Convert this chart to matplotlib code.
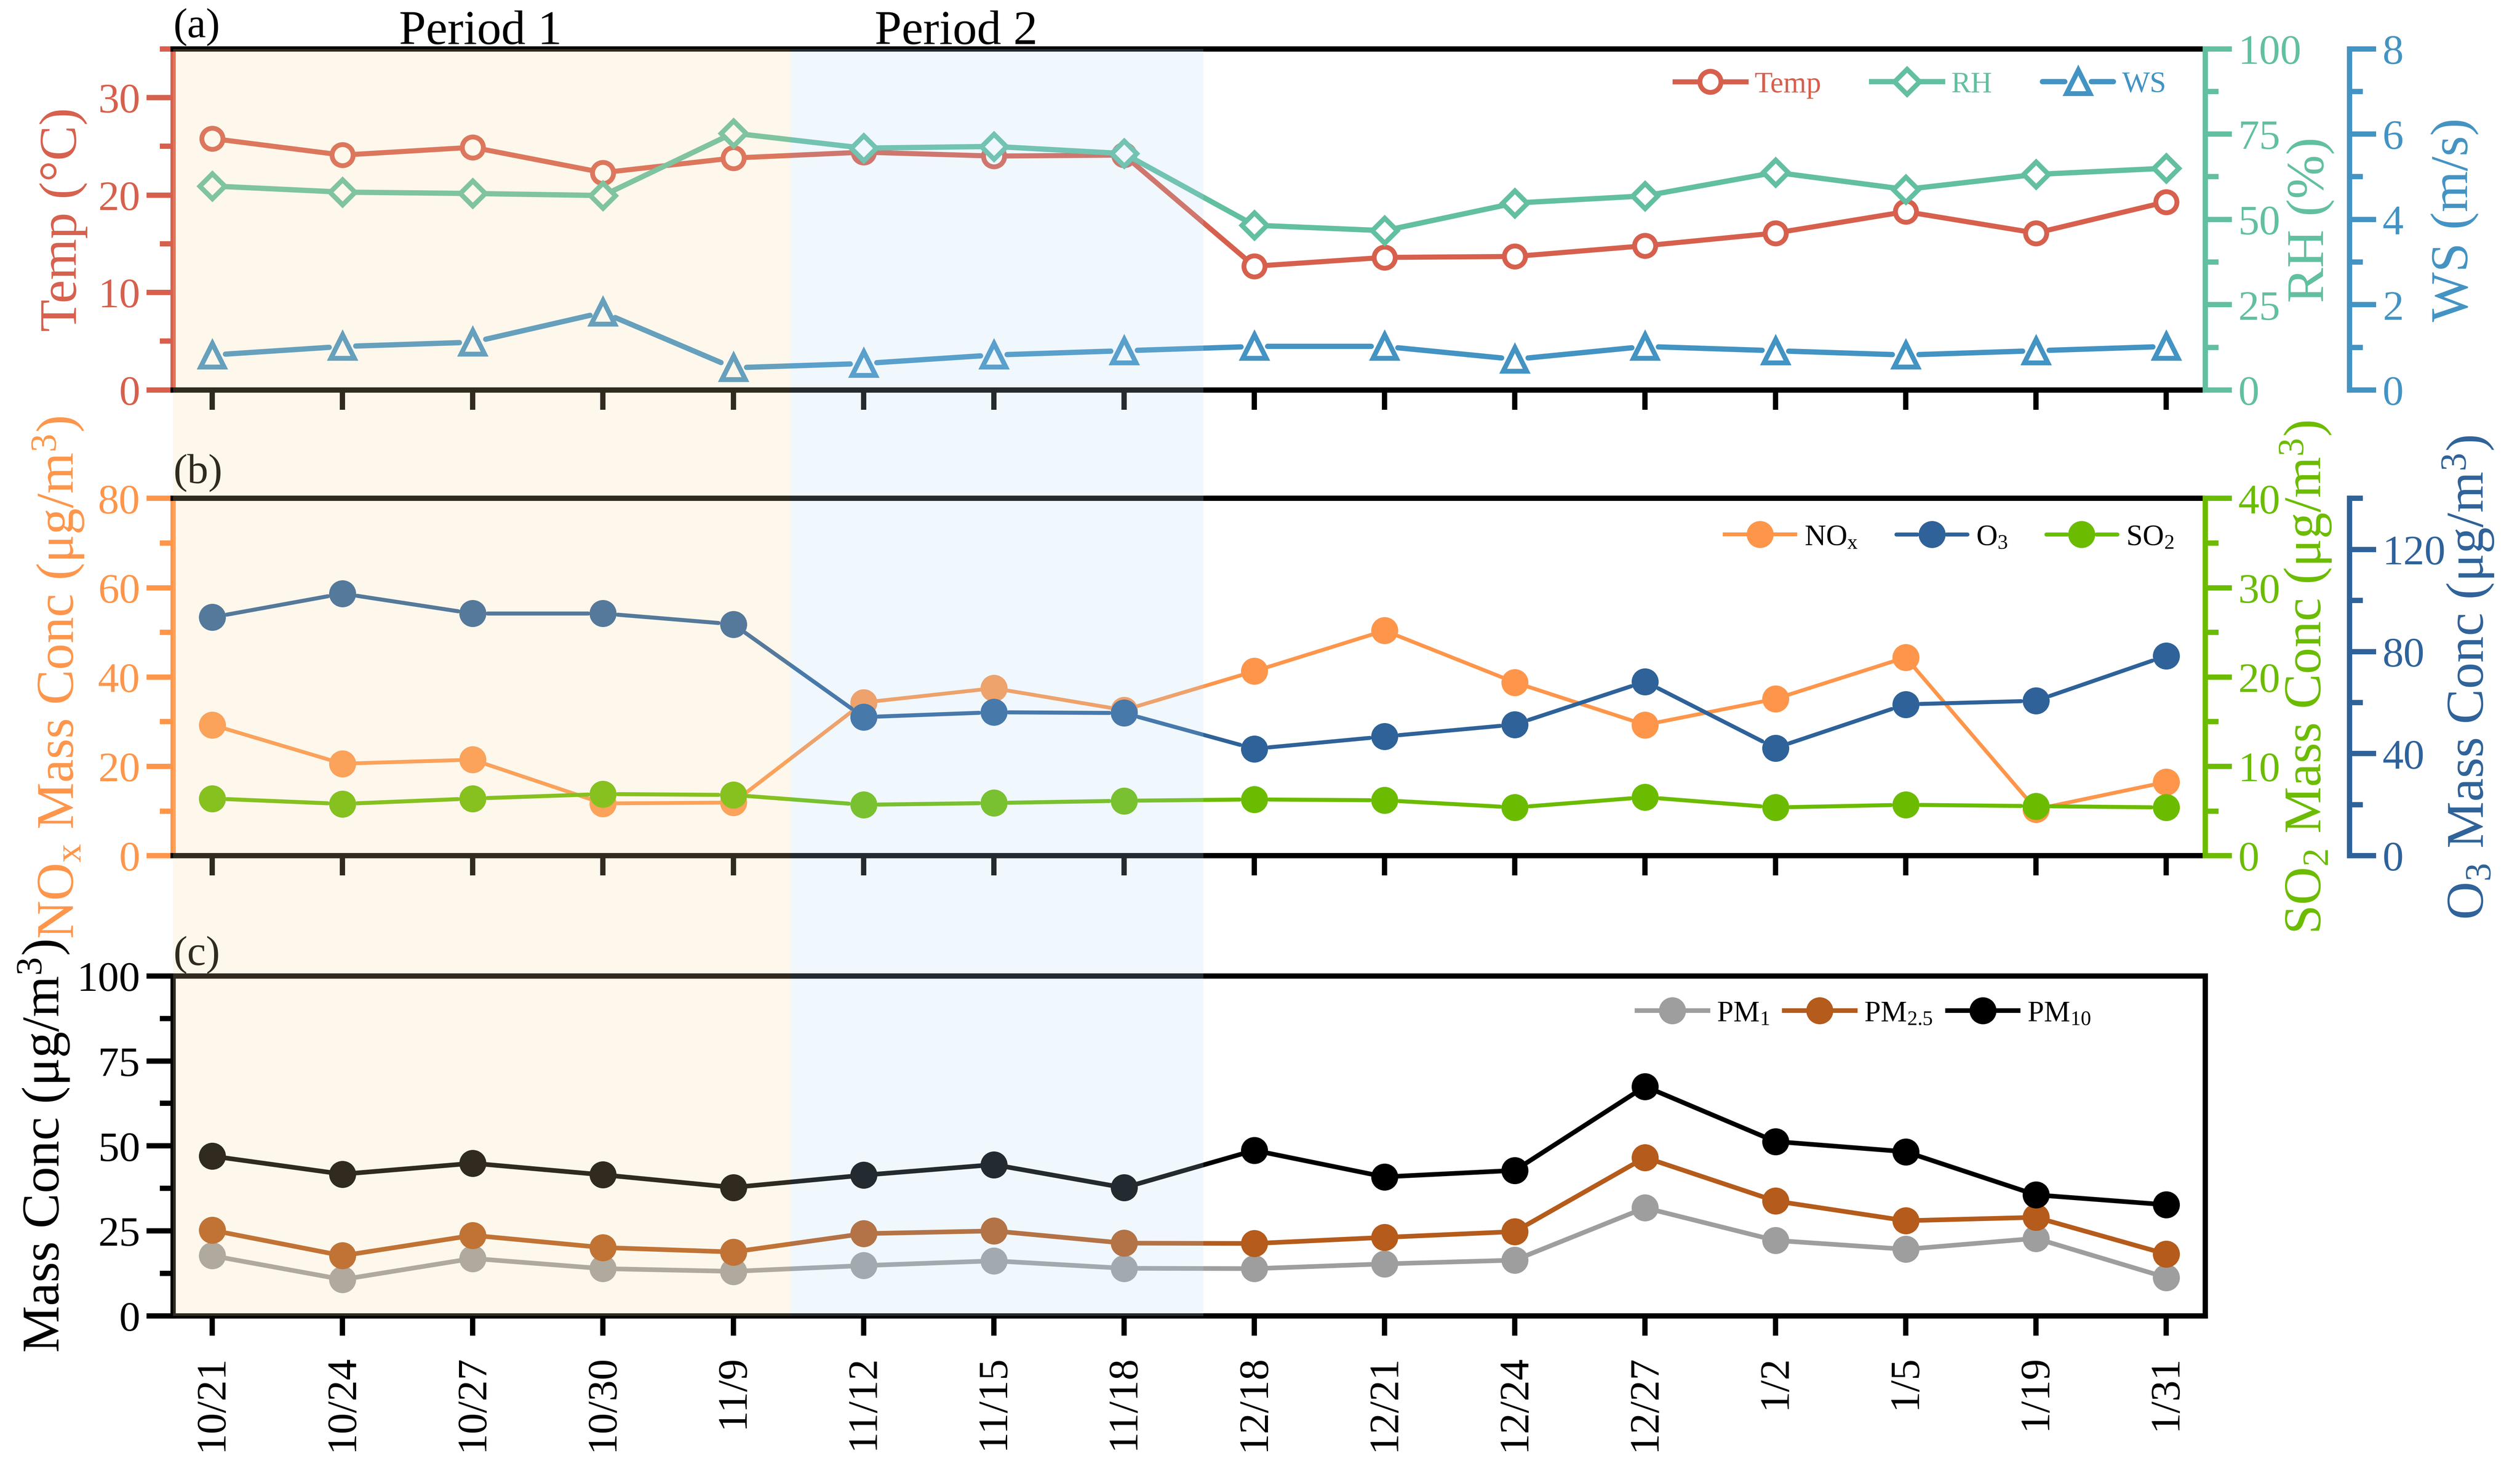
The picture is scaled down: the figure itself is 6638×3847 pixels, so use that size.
import numpy as np
import matplotlib
matplotlib.use("Agg")
import matplotlib.pyplot as plt
from matplotlib.lines import Line2D
from matplotlib.patches import Rectangle
from matplotlib.legend_handler import HandlerBase
from matplotlib.ticker import MultipleLocator
from matplotlib.transforms import blended_transform_factory

plt.rcParams["font.family"] = ["Liberation Serif", "DejaVu Serif"]
plt.rcParams["mathtext.fontset"] = "custom"
plt.rcParams["mathtext.rm"] = "Liberation Serif"
plt.rcParams["mathtext.it"] = "Liberation Serif:italic"
plt.rcParams["mathtext.bf"] = "Liberation Serif:bold"

# ---- data ----
dates = ["10/21", "10/24", "10/27", "10/30", "11/9", "11/12", "11/15", "11/18",
         "12/18", "12/21", "12/24", "12/27", "1/2", "1/5", "1/19", "1/31"]

temp = [25.8, 24.1, 24.9, 22.3, 23.8, 24.4, 24.0, 24.1, 12.7, 13.6, 13.7, 14.8, 16.1, 18.3, 16.1, 19.3]
rh = [59.8, 58.0, 57.6, 57.0, 75.3, 70.9, 71.4, 69.3, 48.3, 46.7, 54.8, 56.9, 63.8, 58.8, 63.2, 65.0]
ws = [0.82, 1.02, 1.12, 1.82, 0.52, 0.62, 0.82, 0.92, 1.02, 1.02, 0.72, 1.02, 0.92, 0.82, 0.92, 1.02]

nox = [29.3, 20.6, 21.5, 11.7, 11.9, 34.3, 37.5, 32.6, 41.3, 50.4, 38.8, 29.3, 35.1, 44.4, 10.4, 16.5]
o3 = [93.4, 102.7, 94.9, 94.9, 90.7, 54.3, 56.2, 55.9, 41.9, 46.7, 51.4, 68.2, 42.2, 59.3, 60.7, 78.3]
so2 = [6.4, 5.8, 6.4, 6.9, 6.8, 5.7, 5.9, 6.15, 6.3, 6.2, 5.4, 6.55, 5.4, 5.7, 5.55, 5.4]

pm1 = [17.7, 10.7, 16.9, 13.9, 13.1, 14.8, 16.2, 14.0, 13.9, 15.3, 16.4, 31.8, 22.2, 19.6, 22.8, 11.3]
pm25 = [25.2, 17.7, 23.7, 20.1, 18.8, 24.2, 25.0, 21.4, 21.3, 23.1, 24.8, 46.6, 33.8, 28.0, 29.0, 18.2]
pm10 = [47.0, 41.7, 44.9, 41.5, 37.8, 41.4, 44.5, 37.7, 48.7, 40.9, 42.8, 67.5, 51.3, 48.3, 35.6, 32.7]

period_labels = ["Period 1", "Period 2"]

# ---- styling ----
TEMP_C, RH_C, WS_C = "#D6604D", "#62BFA1", "#4393C3"
NOX_C, O3_C, SO2_C = "#FD964B", "#2E6299", "#6BBC00"
PM1_C, PM25_C, PM10_C = "#9E9E9E", "#B55B1B", "#000000"

DPI = 400
SPINE_W = 2.5
TICK_FS = 20
LABEL_FS = 25
LEG_FS = 14
XLIM = (-0.3, 15.3)
P1_END, P2_END = 4.44, 7.61
PERIOD_X = [2.06, 5.71]
OFFSET = 1.071

x = np.arange(len(dates))

fig = plt.figure(figsize=(6638 / DPI, 3848 / DPI), dpi=DPI)
ax_a = fig.add_axes([0.0687, 0.7329, 0.8064, 0.2334])
ax_b = fig.add_axes([0.0687, 0.4142, 0.8064, 0.2445])
ax_c = fig.add_axes([0.0687, 0.0993, 0.8064, 0.2326])


def style_main(ax, color, ylim, major, minor, right_visible=False):
    ax.set_xlim(*XLIM)
    ax.set_ylim(*ylim)
    for s in ax.spines.values():
        s.set_linewidth(SPINE_W)
        s.set_color("black")
    ax.spines["left"].set_color(color)
    ax.spines["right"].set_visible(right_visible)
    ax.yaxis.set_major_locator(MultipleLocator(major))
    ax.yaxis.set_minor_locator(MultipleLocator(minor))
    ax.tick_params(axis="y", which="major", length=12.6, width=SPINE_W, color=color,
                   labelcolor=color, labelsize=TICK_FS, pad=3)
    ax.tick_params(axis="y", which="minor", length=6.3, width=SPINE_W, color=color)
    ax.tick_params(axis="y", which="both", right=False)
    ax.set_xticks(x)
    ax.tick_params(axis="x", which="major", length=9.4, width=SPINE_W, color="black",
                   labelsize=TICK_FS, pad=9, top=False)
    ax.tick_params(axis="x", which="minor", bottom=False, top=False)


def add_twin(ax, color, ylim, major, minor, offset=None):
    tw = ax.twinx()
    tw.set_xlim(*XLIM)
    tw.set_ylim(*ylim)
    for name in ("top", "bottom", "left"):
        tw.spines[name].set_visible(False)
    tw.spines["right"].set_color(color)
    tw.spines["right"].set_linewidth(SPINE_W)
    if offset is not None:
        tw.spines["right"].set_position(("axes", offset))
    tw.yaxis.set_major_locator(MultipleLocator(major))
    tw.yaxis.set_minor_locator(MultipleLocator(minor))
    tw.tick_params(axis="y", which="major", length=12.6, width=SPINE_W, color=color,
                   labelcolor=color, labelsize=TICK_FS, pad=3)
    tw.tick_params(axis="y", which="minor", length=6.3, width=SPINE_W, color=color)
    return tw


def gapped_line(ax, xs, ys, gap_pt, **kw):
    # line pieces that stop short of each marker
    pts = ax.transData.transform(np.column_stack([xs, ys]))
    g = gap_pt * fig.dpi / 72
    inv = ax.transData.inverted()
    for p, q in zip(pts[:-1], pts[1:]):
        d = q - p
        n = np.hypot(*d)
        if n <= 2 * g:
            continue
        u = d / n
        seg = inv.transform(np.vstack([p + u * g, q - u * g]))
        ax.plot(seg[:, 0], seg[:, 1], solid_capstyle="round", **kw)


class GapHandler(HandlerBase):
    def __init__(self, gap):
        super().__init__()
        self.gap = gap

    def create_artists(self, legend, orig, xdescent, ydescent, width, height, fontsize, trans):
        y = (height - ydescent) / 2
        x0, x1 = -xdescent, -xdescent + width
        xm = (x0 + x1) / 2
        kw = dict(color=orig.get_color(), lw=orig.get_linewidth(), solid_capstyle="round")
        left = Line2D([x0, xm - self.gap], [y, y], **kw)
        right = Line2D([xm + self.gap, x1], [y, y], **kw)
        mk = Line2D([xm], [y], ls="none", marker=orig.get_marker(), ms=orig.get_markersize(),
                    mfc=orig.get_markerfacecolor(), mec=orig.get_markeredgecolor(),
                    mew=orig.get_markeredgewidth())
        for a in (left, right, mk):
            a.set_transform(trans)
        return [left, right, mk]


def proxy(color, lw, marker, ms, mfc, mew):
    return Line2D([], [], color=color, lw=lw, marker=marker, ms=ms, mfc=mfc, mec=color, mew=mew)


# ---------------- panel (a) ----------------
style_main(ax_a, TEMP_C, (0, 35), 10, 5)
ax_a.tick_params(axis="x", labelbottom=False)
ax_rh = add_twin(ax_a, RH_C, (0, 100), 25, 12.5)
ax_ws = add_twin(ax_a, WS_C, (0, 8), 2, 1, offset=OFFSET)

ax_a.plot(x, temp, color=TEMP_C, lw=2.4, marker="o", ms=10, mfc="white", mec=TEMP_C, mew=2.3, zorder=3)
ax_rh.plot(x, rh, color=RH_C, lw=2.5, marker="D", ms=8.5, mfc="white", mec=RH_C, mew=2.3, zorder=3)
gapped_line(ax_ws, x, ws, 6.3, color=WS_C, lw=2.5)
ax_ws.plot(x, ws, ls="none", marker="^", ms=11, mfc="white", mec=WS_C, mew=2.3, zorder=3)

ax_a.set_ylabel("Temp (°C)", fontsize=LABEL_FS, color=TEMP_C)
ax_a.yaxis.set_label_coords(-0.042, 0.5)
ax_rh.set_ylabel("RH (%)", fontsize=LABEL_FS, color=RH_C)
ax_rh.yaxis.set_label_coords(1.040, 0.5)
ax_ws.set_ylabel("WS (m/s)", fontsize=LABEL_FS, color=WS_C)
ax_ws.yaxis.set_label_coords(1.111, 0.5)

h_temp = proxy(TEMP_C, 2.4, "o", 10, "white", 2.3)
h_rh = proxy(RH_C, 2.5, "D", 8.5, "white", 2.3)
h_ws = proxy(WS_C, 2.5, "^", 11, "white", 2.3)
leg = ax_ws.legend([h_temp, h_rh, h_ws], ["Temp", "RH", "WS"], loc="center",
                   bbox_to_anchor=(0.86, 0.895), ncol=3, frameon=False, fontsize=LEG_FS,
                   handlelength=2.4, handletextpad=0.3, columnspacing=1.7,
                   handler_map={h_ws: GapHandler(6.3)})
for t, c in zip(leg.get_texts(), [TEMP_C, RH_C, WS_C]):
    t.set_color(c)

# ---------------- panel (b) ----------------
style_main(ax_b, NOX_C, (0, 80), 20, 10)
ax_b.tick_params(axis="x", labelbottom=False)
ax_so2 = add_twin(ax_b, SO2_C, (0, 40), 10, 5)
ax_o3 = add_twin(ax_b, O3_C, (0, 140), 40, 20, offset=OFFSET)

ax_b.plot(x, nox, color=NOX_C, lw=1.8, marker="o", ms=12, mec=NOX_C, mew=0.8, zorder=3)
gapped_line(ax_so2, x, so2, 7.0, color=SO2_C, lw=1.9)
ax_so2.plot(x, so2, ls="none", marker="o", ms=12, color=SO2_C, mec=SO2_C, mew=0.8, zorder=3)
gapped_line(ax_o3, x, o3, 7.0, color=O3_C, lw=1.9)
ax_o3.plot(x, o3, ls="none", marker="o", ms=12, color=O3_C, mec=O3_C, mew=0.8, zorder=3)

ax_b.set_ylabel(r"NO$_\mathrm{x}$ Mass Conc (μg/m$^\mathrm{3}$)", fontsize=LABEL_FS, color=NOX_C)
ax_b.yaxis.set_label_coords(-0.043, 0.5)
ax_so2.set_ylabel(r"SO$_\mathrm{2}$ Mass Conc (μg/m$^\mathrm{3}$)", fontsize=LABEL_FS, color=SO2_C)
ax_so2.yaxis.set_label_coords(1.036, 0.5)
ax_o3.set_ylabel(r"O$_\mathrm{3}$ Mass Conc (μg/m$^\mathrm{3}$)", fontsize=LABEL_FS, color=O3_C)
ax_o3.yaxis.set_label_coords(1.116, 0.5)

h_nox = proxy(NOX_C, 1.8, "o", 12, NOX_C, 0.8)
h_o3 = proxy(O3_C, 1.9, "o", 12, O3_C, 0.8)
h_so2 = proxy(SO2_C, 1.9, "o", 12, SO2_C, 0.8)
ax_o3.legend([h_nox, h_o3, h_so2], [r"NO$_\mathrm{x}$", r"O$_\mathrm{3}$", r"SO$_\mathrm{2}$"],
             loc="center", bbox_to_anchor=(0.874, 0.89), ncol=3, frameon=False, fontsize=LEG_FS,
             handlelength=2.4, handletextpad=0.3, columnspacing=1.3,
             handler_map={h_o3: GapHandler(7.0), h_so2: GapHandler(7.0)})

# ---------------- panel (c) ----------------
style_main(ax_c, "black", (0, 100), 25, 12.5, right_visible=True)
ax_c.set_xticklabels(dates, rotation=90)
ax_c.plot(x, pm1, color=PM1_C, lw=2.2, marker="o", ms=12, mec=PM1_C, mew=0.8, zorder=3)
ax_c.plot(x, pm25, color=PM25_C, lw=2.2, marker="o", ms=12, mec=PM25_C, mew=0.8, zorder=3)
ax_c.plot(x, pm10, color=PM10_C, lw=2.2, marker="o", ms=12, mec=PM10_C, mew=0.8, zorder=3)
ax_c.set_ylabel(r"Mass Conc (μg/m$^\mathrm{3}$)", fontsize=LABEL_FS, color="black")
ax_c.yaxis.set_label_coords(-0.050, 0.5)
ax_c.legend([r"PM$_\mathrm{1}$", r"PM$_\mathrm{2.5}$", r"PM$_\mathrm{10}$"],
            loc="center", bbox_to_anchor=(0.832, 0.889), ncol=3, frameon=False, fontsize=LEG_FS,
            handlelength=2.4, handletextpad=0.3, columnspacing=0.5)

# ---------------- panel tags and periods ----------------
for ax, tag, ty in [(ax_a, "(a)", 1.008), (ax_b, "(b)", 1.018), (ax_c, "(c)", 1.007)]:
    ax.text(0.0, ty, tag, transform=ax.transAxes, ha="left", va="bottom", fontsize=20)

ptrans = blended_transform_factory(ax_a.transData, ax_a.transAxes)
for px, lab in zip(PERIOD_X, period_labels):
    ax_a.text(px, 1.0156, lab, transform=ptrans, ha="center", va="baseline", fontsize=23)

# shaded periods drawn as a translucent overlay across all three panels
ftrans = blended_transform_factory(ax_c.transData, fig.transFigure)
y0 = ax_c.get_position().y0
y1 = ax_a.get_position().y1
fig.add_artist(Rectangle((XLIM[0], y0), P1_END - XLIM[0], y1 - y0, transform=ftrans,
                         facecolor="#F5D7A0", alpha=0.2, lw=0, zorder=10))
fig.add_artist(Rectangle((P1_END, y0), P2_END - P1_END, y1 - y0, transform=ftrans,
                         facecolor="#B4D7F5", alpha=0.2, lw=0, zorder=10))

fig.savefig("out.png", dpi=DPI)
plt.close(fig)
